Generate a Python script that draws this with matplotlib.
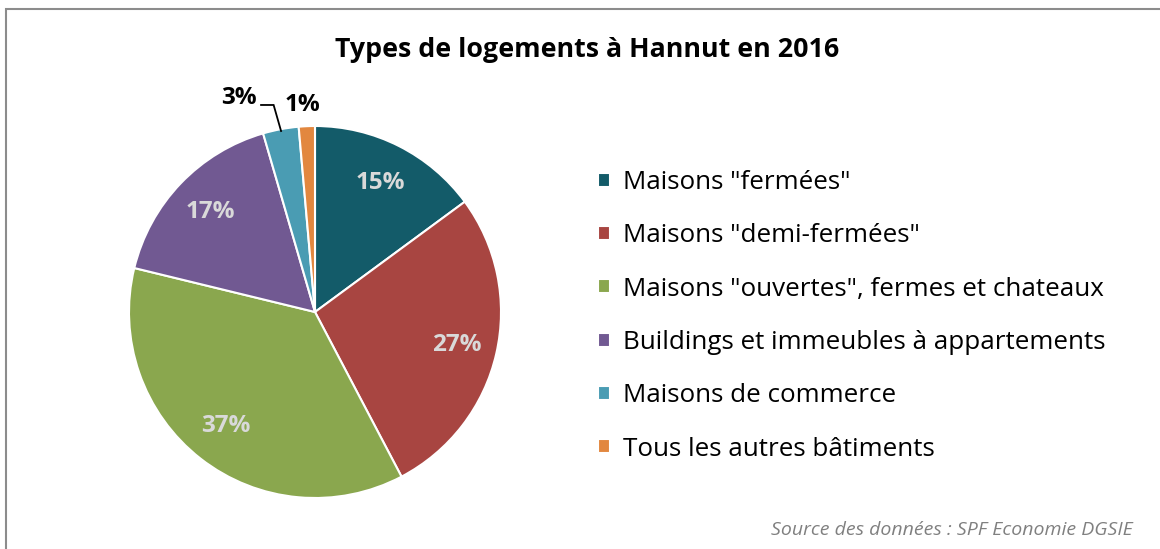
import matplotlib.pyplot as plt
from matplotlib.patches import Rectangle
import numpy as np

labels = ['Maisons "fermées"', 'Maisons "demi-fermées"',
          'Maisons "ouvertes", fermes et chateaux',
          'Buildings et immeubles à appartements',
          'Maisons de commerce', 'Tous les autres bâtiments']
values = [14.9, 27.4, 36.5, 16.7, 3.1, 1.4]
pct_text = ['15%', '27%', '37%', '17%', '3%', '1%']
colors = ['#135B69', '#A84541', '#8AA74E', '#715992', '#4A9CB3', '#E2873F']

plt.rcParams['font.family'] = ['Open Sans', 'DejaVu Sans']

W, H = 1160, 549
fig = plt.figure(figsize=(W / 100, H / 100), dpi=100)

# grey frame (only top and left visible in the crop)
fig.patches.append(Rectangle((5.5 / W, -0.1), 1.2, 1.1 - 9.5 / H, transform=fig.transFigure,
                             fill=False, edgecolor='#8c8c8c', linewidth=1.5))

cx, cy, R = 315, 312, 186
ax = fig.add_axes([(cx - R) / W, (H - cy - R) / H, 2 * R / W, 2 * R / H])
wedges, _ = ax.pie(values, colors=colors, startangle=90, counterclock=False,
                   wedgeprops=dict(edgecolor='white', linewidth=1.5))
ax.set_xlim(-1, 1)
ax.set_ylim(-1, 1)

for i, w in enumerate(wedges):
    mid = np.deg2rad((w.theta1 + w.theta2) / 2)
    if i < 4:
        ax.text(0.78 * np.cos(mid), 0.78 * np.sin(mid), pct_text[i], ha='center', va='center',
                fontsize=17.5, fontweight='bold', color='#D9D9D9')
    elif i == 4:
        # label with a bent leader line to the wedge
        ax.text(-0.411, 1.148, pct_text[i], ha='center', va='center',
                fontsize=17.5, fontweight='bold', color='black')
        ex, ey = 0.99 * np.cos(mid), 0.99 * np.sin(mid)
        ax.plot([-0.29, ex - 0.04, ex], [1.113, 1.113, ey], color='black', lw=1.3,
                clip_on=False, solid_joinstyle='miter')
    else:
        ax.text(1.13 * np.cos(mid) - 0.018, 1.115 * np.sin(mid), pct_text[i], ha='center', va='center',
                fontsize=17.5, fontweight='bold', color='black')

fig.text(587 / W, 1 - 50 / H, 'Types de logements à Hannut en 2016', ha='center', va='center',
         fontsize=19.3, fontweight='bold')

fig.legend(wedges, labels, loc='upper left', bbox_to_anchor=(598 / W, 1 - 170 / H),
           frameon=False, fontsize=18.7, handlelength=0.45, handleheight=0.45,
           handletextpad=0.5, labelspacing=1.09, borderpad=0, borderaxespad=0)

fig.text(1133 / W, 1 - 530 / H, 'Source des données : SPF Economie DGSIE', ha='right',
         va='center', fontsize=14, style='italic', color='#808080')

fig.savefig('out.png', dpi=100)
